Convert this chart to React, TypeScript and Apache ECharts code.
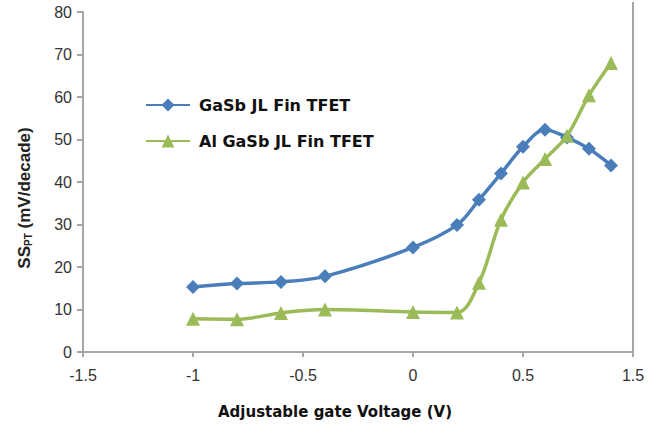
import React, { useEffect, useRef } from "react";
import * as echarts from "echarts";

const xValues = [-1, -0.8, -0.6, -0.4, 0, 0.2, 0.3, 0.4, 0.5, 0.6, 0.7, 0.8, 0.9];
const gasbValues = [15.3, 16.1, 16.5, 17.8, 24.6, 29.9, 35.8, 42.0, 48.3, 52.3, 50.5, 47.8, 43.9];
const algasbValues = [7.8, 7.7, 9.2, 10.0, 9.4, 9.3, 16.3, 31.1, 39.9, 45.4, 50.9, 60.4, 68.0];
const xTickLabels = ["-1.5", "-1", "-0.5", "0", "0.5", "1.5"];
const seriesNames = ["GaSb JL Fin TFET", "Al GaSb JL Fin TFET"];

const BLUE = "#4A7EBB";
const GREEN = "#9BBB59";
const AXIS = "#A6A6A6";

export default function App() {
  const ref = useRef<HTMLDivElement>(null);
  useEffect(() => {
    if (!ref.current) return;
    const chart = echarts.init(ref.current, undefined, { renderer: "svg" });
    const pair = (ys: number[]) => xValues.map((x, i) => [x, ys[i]]);
    chart.setOption({
      animation: false,
      backgroundColor: "#ffffff",
      grid: { left: 83, right: 17, top: 12, bottom: 73, containLabel: false },
      legend: {
        orient: "vertical",
        left: 145,
        top: 97,
        padding: 0,
        itemWidth: 44,
        itemHeight: 16,
        itemGap: 20,
        selectedMode: false,
        textStyle: {
          fontFamily: "DejaVu Sans",
          fontWeight: "bold",
          fontSize: 16,
          color: "#111111",
          padding: [0, 0, 0, 4],
        },
        data: seriesNames,
      },
      xAxis: {
        type: "value",
        min: -1.5,
        max: 1,
        interval: 0.5,
        name: "Adjustable gate Voltage (V)",
        nameLocation: "middle",
        nameGap: 52,
        nameTextStyle: {
          fontFamily: "DejaVu Sans",
          fontWeight: "bold",
          fontSize: 15,
          color: "#111111",
          padding: [0, 46, 0, 0],
        },
        axisLine: { show: true, onZero: false, lineStyle: { color: AXIS, width: 2 } },
        axisTick: { show: true, inside: false, length: 5, lineStyle: { color: AXIS, width: 2 } },
        splitLine: { show: false },
        axisLabel: {
          margin: 15,
          fontFamily: "Liberation Sans",
          fontSize: 16,
          color: "#333333",
          formatter: (_v: number, i: number) => xTickLabels[i] ?? "",
        },
      },
      yAxis: {
        type: "value",
        min: 0,
        max: 80,
        interval: 10,
        name: "SS{sub|PT} (mV/decade)",
        nameLocation: "middle",
        nameGap: 50,
        nameTextStyle: {
          fontFamily: "Liberation Sans",
          fontWeight: "bold",
          fontSize: 17,
          color: "#222222",
          padding: [0, 32, 0, 0],
          rich: {
            sub: {
              fontFamily: "Liberation Sans",
              fontWeight: "bold",
              fontSize: 10,
              color: "#222222",
              verticalAlign: "bottom",
              padding: [6, 0, 0, 0],
            },
          },
        },
        axisLine: { show: true, onZero: false, lineStyle: { color: AXIS, width: 2 } },
        axisTick: { show: true, inside: false, length: 6, lineStyle: { color: AXIS, width: 2 } },
        splitLine: { show: false },
        axisLabel: {
          margin: 11,
          fontFamily: "Liberation Sans",
          fontSize: 16,
          color: "#333333",
        },
      },
      graphic: [
        {
          type: "line",
          shape: { x1: 633, y1: 2, x2: 633, y2: 352 },
          style: { stroke: AXIS, lineWidth: 2 },
          silent: true,
        },
      ],
      series: [
        {
          name: seriesNames[0],
          type: "line",
          data: pair(gasbValues),
          smooth: 0.35,
          symbol: "diamond",
          symbolSize: 14,
          lineStyle: { color: BLUE, width: 3.5 },
          itemStyle: { color: BLUE },
          emphasis: { disabled: true },
          z: 2,
        },
        {
          name: seriesNames[1],
          type: "line",
          data: pair(algasbValues),
          smooth: 0.35,
          symbol: "triangle",
          symbolSize: 14,
          lineStyle: { color: GREEN, width: 3.5 },
          itemStyle: { color: GREEN },
          emphasis: { disabled: true },
          z: 3,
        },
      ],
    });
    return () => chart.dispose();
  }, []);
  return (
    <div
      ref={ref}
      style={{ position: "fixed", left: 0, top: 0, width: 650, height: 425, background: "#fff" }}
    />
  );
}
